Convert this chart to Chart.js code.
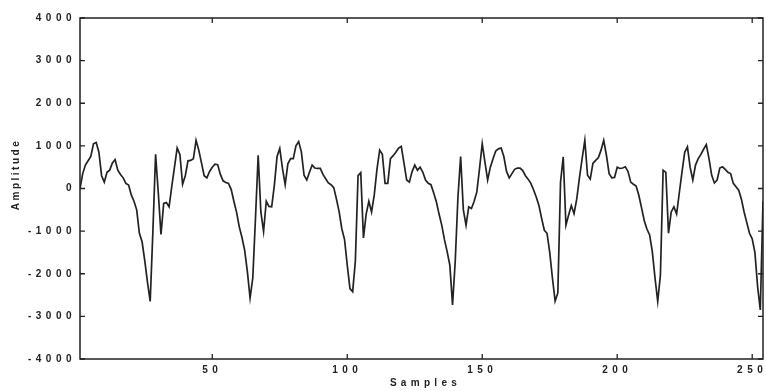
<!DOCTYPE html>
<html>
<head>
<meta charset="utf-8">
<script src="https://cdn.jsdelivr.net/npm/chart.js@4.4.0/dist/chart.umd.min.js"></script>
<style>
  html, body { margin: 0; padding: 0; background: #fff; }
  #wrap { width: 766px; height: 391px; }
</style>
</head>
<body>
<div id="wrap"><canvas id="chart" width="766" height="391"></canvas></div>
<script>
// amplitude, one value per sample (samples 1..254)
const amplitude = [
    0, 350, 550, 650, 750, 1050, 1080, 850, 300, 150,
    380, 430, 600, 680, 430, 330, 250, 120, 80, -150,
    -300, -500, -1050, -1250, -1700, -2200, -2650, -1000, 800, -100,
    -1080, -350, -330, -430, 50, 500, 950, 800, 100, 300,
    650, 660, 700, 1130, 900, 600, 300, 250, 400, 500,
    570, 560, 330, 180, 140, 120, -20, -300, -560, -900,
    -1150, -1450, -1950, -2570, -2100, -700, 780, -550, -1010, -300,
    -420, -430, 80, 750, 940, 470, 90, 580, 700, 700,
    1000, 1100, 860, 310, 200, 380, 550, 480, 470, 470,
    330, 230, 130, 90, 20, -250, -550, -950, -1200, -1800,
    -2350, -2420, -1700, 300, 370, -1160, -600, -300, -550, -150,
    450, 900, 800, 120, 120, 700, 770, 850, 950, 990,
    600, 200, 150, 390, 550, 430, 500, 380, 200, 120,
    90, -100, -310, -600, -860, -1200, -1480, -1800, -2730, -1700,
    -200, 750, -500, -860, -430, -470, -300, -80, 470, 1050,
    620, 200, 500, 700, 880, 930, 950, 750, 400, 250,
    350, 450, 480, 480, 420, 300, 220, 120, -30, -200,
    -400, -700, -980, -1050, -1500, -2100, -2640, -2450, 150, 740,
    -860, -620, -400, -590, -250, 250, 700, 1130, 310, 220,
    590, 660, 720, 900, 1130, 780, 350, 250, 260, 500,
    470, 480, 510, 400, 150, 100, 60, -160, -450, -750,
    -950, -1090, -1480, -2100, -2650, -2030, 430, 380, -1050, -550,
    -430, -600, -100, 390, 850, 975, 500, 200, 550, 700,
    800, 920, 1030, 700, 310, 130, 200, 480, 510, 450,
    380, 350, 120, 40, -40, -250, -550, -800, -1050, -1180,
    -1500, -2300, -2850, -300
];
const xTicks = [50, 100, 150, 200, 250];
const yTicks = [-4000, -3000, -2000, -1000, 0, 1000, 2000, 3000, 4000];
const xTitle = 'Samples';
const yTitle = 'Amplitude';

const ink = '#222';
const labelFont = { family: '"Liberation Sans", Arial, sans-serif', size: 10, weight: 'bold' };

// box, inward tick marks and titles, like the old plot
const framePlugin = {
    id: 'frame',
    beforeDraw(chart) {
        chart.ctx.letterSpacing = '4.5px';
    },
    afterDatasetsDraw(chart) {
        const {ctx, chartArea: a, scales: {x, y}} = chart;
        ctx.save();
        ctx.strokeStyle = ink;
        ctx.lineWidth = 1.3;
        ctx.beginPath();
        for (const v of xTicks) {
            const px = x.getPixelForValue(v);
            ctx.moveTo(px, a.bottom); ctx.lineTo(px, a.bottom - 5);
            ctx.moveTo(px, a.top); ctx.lineTo(px, a.top + 5);
        }
        for (const v of yTicks) {
            const py = y.getPixelForValue(v);
            ctx.moveTo(a.left, py); ctx.lineTo(a.left + 5, py);
            ctx.moveTo(a.right, py); ctx.lineTo(a.right - 5, py);
        }
        ctx.stroke();
        ctx.lineWidth = 1.5;
        ctx.strokeRect(a.left, a.top, a.width, a.height);

        ctx.fillStyle = ink;
        ctx.font = 'bold 10px "Liberation Sans", Arial, sans-serif';
        ctx.letterSpacing = '4.3px';
        ctx.textAlign = 'center';
        ctx.textBaseline = 'middle';
        ctx.fillText(xTitle, (a.left + a.right) / 2 + 4, a.bottom + 24);
        ctx.translate(16, (a.top + a.bottom) / 2 - 14);
        ctx.rotate(-Math.PI / 2);
        ctx.letterSpacing = '2.5px';
        ctx.fillText(yTitle, 0, 0);
        ctx.restore();
    },
    afterDraw(chart) {
        chart.ctx.letterSpacing = '0px';
    }
};

const chart = new Chart(document.getElementById('chart'), {
    type: 'line',
    data: {
        datasets: [{
            data: amplitude.map((v, i) => ({x: i + 1, y: v})),
            borderColor: ink,
            borderWidth: 1.7,
            pointRadius: 0,
            tension: 0,
            fill: false
        }]
    },
    options: {
        responsive: false,
        animation: false,
        devicePixelRatio: 1,
        layout: { padding: { top: 18, right: 3, left: 0, bottom: 0 } },
        plugins: { legend: { display: false }, tooltip: { enabled: false } },
        scales: {
            x: {
                type: 'linear',
                min: 1,
                max: 254,
                afterBuildTicks: s => { s.ticks = xTicks.map(v => ({value: v})); },
                afterFit: s => { s.height = 32; },
                grid: { display: false, drawTicks: false },
                border: { display: false },
                ticks: { color: ink, font: labelFont, padding: 5, maxRotation: 0, autoSkip: false,
                         callback: v => String(v) }
            },
            y: {
                min: -4000,
                max: 4000,
                afterBuildTicks: s => { s.ticks = yTicks.map(v => ({value: v})); },
                afterFit: s => { s.width = 80; },
                grid: { display: false, drawTicks: false },
                border: { display: false },
                ticks: { color: ink, font: labelFont, padding: 4, callback: v => String(v) }
            }
        }
    },
    plugins: [framePlugin]
});
</script>
</body>
</html>
